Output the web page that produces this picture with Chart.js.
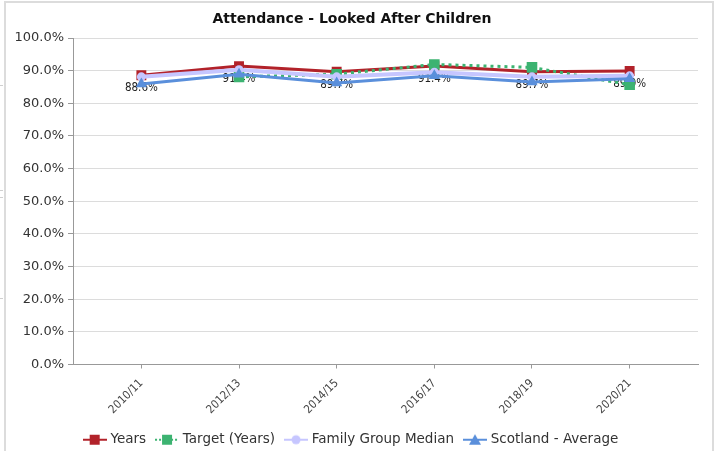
<!DOCTYPE html>
<html>
<head>
<meta charset="utf-8">
<script src="https://cdn.jsdelivr.net/npm/chart.js@4.4.1/dist/chart.umd.min.js"></script>
<style>
  html, body { margin: 0; padding: 0; background: #fff; }
  #wrap { position: relative; width: 714px; height: 451px; overflow: hidden; }
  /* panel frame */
  .frame { position: absolute; left: 4px; top: 1px; width: 706px; height: 460px;
           border: 2px solid #dcdcdc; border-bottom: none; }
  .side { position: absolute; left: 0; width: 3px; height: 1px; background: #cfcfcf; }
  #chart { position: absolute; left: 0; top: 0; }
</style>
</head>
<body>
<div id="wrap">
  <div class="frame"></div>
  <div class="side" style="top:85px"></div>
  <div class="side" style="top:190px"></div>
  <div class="side" style="top:197px"></div>
  <div class="side" style="top:298px"></div>
  <canvas id="chart" width="714" height="451"></canvas>
</div>
<script>
// 출석률 데이터 (%)
const categories = ['2010/11', '2012/13', '2014/15', '2016/17', '2018/19', '2020/21'];
const yearsValues = [88.6, 91.4, 89.7, 91.4, 89.7, 89.9];
const targetValues = [null, 88.1, 88.9, 91.9, 91.0, 85.7];
const familyMedianValues = [88.1, 90.3, 88.1, 89.5, 88.1, 88.4];
const scotlandAvgValues = [85.9, 88.9, 86.2, 88.4, 86.5, 87.5];
const yTicks = [0, 10, 20, 30, 40, 50, 60, 70, 80, 90, 100];

const RED = '#b2222a';
const GREEN = '#3cb371';
const LAVENDER = '#c6c6ff';
const BLUE = '#5a8fdb';

// 카테고리 인덱스를 x 값으로 사용
function toPoints(values) {
    return values.map((v, i) => ({ x: i, y: v }));
}

// 범례 아이콘: 선 + 마커
function legendIcon(color, shape, dashed) {
    const c = document.createElement('canvas');
    c.width = 24; c.height = 12;
    const g = c.getContext('2d');
    g.strokeStyle = color;
    g.lineWidth = 2;
    if (dashed) g.setLineDash([2, 2]);
    g.beginPath(); g.moveTo(0, 6); g.lineTo(24, 6); g.stroke();
    g.setLineDash([]);
    g.fillStyle = color;
    if (shape === 'rect') {
        g.fillRect(7, 1, 10, 10);
    } else if (shape === 'circle') {
        g.beginPath(); g.arc(12, 6, 4.5, 0, Math.PI * 2); g.fill();
    } else {
        g.beginPath(); g.moveTo(12, 0.5); g.lineTo(18, 11); g.lineTo(6, 11); g.closePath(); g.fill();
    }
    return c;
}

// Years 값 라벨 (점 아래)
const valueLabels = {
    id: 'valueLabels',
    beforeDatasetsDraw(chart) {
        const ctx = chart.ctx;
        const meta = chart.getDatasetMeta(3);
        ctx.save();
        ctx.font = '11.5px "DejaVu Sans Condensed"';
        ctx.fillStyle = '#222';
        ctx.textAlign = 'center';
        ctx.textBaseline = 'middle';
        meta.data.forEach((pt, i) => {
            if (yearsValues[i] == null) return;
            ctx.fillText(yearsValues[i].toFixed(1) + '%', pt.x, pt.y + 13);
        });
        ctx.restore();
    }
};

const ctx = document.getElementById('chart').getContext('2d');
new Chart(ctx, {
    type: 'line',
    data: {
        datasets: [{
            label: 'Scotland - Average',
            data: toPoints(scotlandAvgValues),
            borderColor: BLUE, backgroundColor: BLUE,
            borderWidth: 3, pointStyle: 'triangle', pointRadius: 6.5,
            pointBorderWidth: 0, order: 1
        }, {
            label: 'Family Group Median',
            data: toPoints(familyMedianValues),
            borderColor: LAVENDER, backgroundColor: LAVENDER,
            borderWidth: 4, pointStyle: 'circle', pointRadius: 4.5,
            pointBorderWidth: 0, order: 2
        }, {
            label: 'Target (Years)',
            data: toPoints(targetValues),
            borderColor: GREEN, backgroundColor: GREEN,
            borderWidth: 3, borderDash: [3, 4], pointStyle: 'rect', pointRadius: 7.5,
            pointBorderWidth: 0, order: 3
        }, {
            label: 'Years',
            data: toPoints(yearsValues),
            borderColor: RED, backgroundColor: RED,
            borderWidth: 3, pointStyle: 'rect', pointRadius: 7,
            pointBorderWidth: 0, order: 4
        }]
    },
    options: {
        responsive: false,
        animation: false,
        layout: { padding: { top: 2, right: 16, bottom: -5.5, left: 6 } },
        scales: {
            x: {
                type: 'linear',
                min: -0.7,
                max: 5.7,
                afterBuildTicks: scale => { scale.ticks = categories.map((c, i) => ({ value: i })); },
                afterFit: scale => { scale.height = 56.5; },
                ticks: {
                    autoSkip: false, minRotation: 45, maxRotation: 45,
                    font: { family: '"DejaVu Sans Condensed"', size: 11.5 },
                    color: '#444',
                    padding: 8,
                    callback: v => categories[v]
                },
                grid: { drawOnChartArea: false, tickLength: 4, color: '#999' },
                border: { color: '#999', width: 1 }
            },
            y: {
                min: 0, max: 100,
                afterBuildTicks: scale => { scale.ticks = yTicks.map(v => ({ value: v })); },
                afterFit: scale => { scale.width = 67; },
                ticks: {
                    font: { family: '"DejaVu Sans"', size: 13 },
                    color: '#333',
                    padding: 4,
                    callback: v => v.toFixed(1) + '%'
                },
                grid: { color: '#dcdcdc', tickLength: 5, tickColor: '#999' },
                border: { color: '#999', width: 1 }
            }
        },
        plugins: {
            title: {
                display: true,
                text: 'Attendance - Looked After Children',
                font: { family: '"DejaVu Sans"', size: 14, weight: 'bold' },
                color: '#111',
                padding: { top: 8.6, bottom: 10.6 }
            },
            legend: {
                position: 'bottom',
                reverse: true,
                labels: {
                    usePointStyle: true,
                    pointStyleWidth: 18,
                    font: { family: '"DejaVu Sans"', size: 13.5 },
                    color: '#333',
                    padding: 12,
                    generateLabels: chart => chart.data.datasets.map((ds, i) => ({
                        text: ds.label,
                        datasetIndex: i,
                        pointStyle: legendIcon(ds.borderColor, ds.pointStyle, !!ds.borderDash),
                        fontColor: '#333',
                        lineWidth: 0
                    }))
                }
            },
            tooltip: { enabled: false }
        }
    },
    plugins: [valueLabels]
});
</script>
</body>
</html>
